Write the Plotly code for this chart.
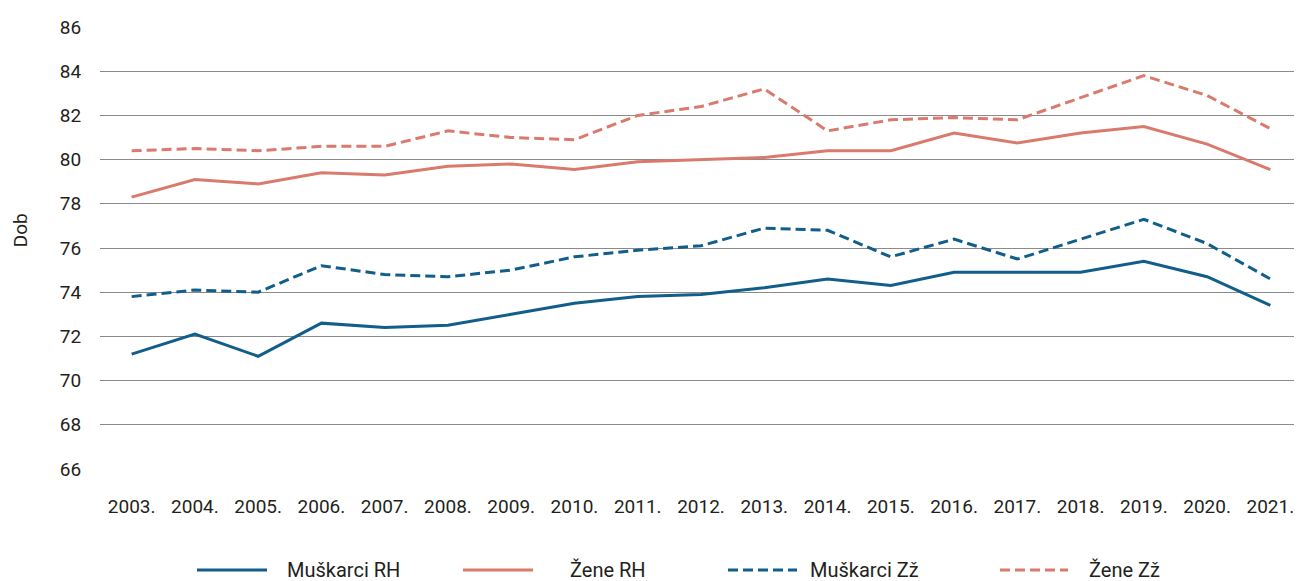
import plotly.graph_objects as go

years = ["2003.", "2004.", "2005.", "2006.", "2007.", "2008.", "2009.", "2010.", "2011.", "2012.",
         "2013.", "2014.", "2015.", "2016.", "2017.", "2018.", "2019.", "2020.", "2021."]
muskarci_rh = [71.2, 72.1, 71.1, 72.6, 72.4, 72.5, 73.0, 73.5, 73.8, 73.9, 74.2, 74.6, 74.3, 74.9, 74.9, 74.9, 75.4, 74.7, 73.4]
zene_rh = [78.3, 79.1, 78.9, 79.4, 79.3, 79.7, 79.8, 79.55, 79.9, 80.0, 80.1, 80.4, 80.4, 81.2, 80.75, 81.2, 81.5, 80.7, 79.55]
muskarci_zz = [73.8, 74.1, 74.0, 75.2, 74.8, 74.7, 75.0, 75.6, 75.9, 76.1, 76.9, 76.8, 75.6, 76.4, 75.5, 76.4, 77.3, 76.2, 74.6]
zene_zz = [80.4, 80.5, 80.4, 80.6, 80.6, 81.3, 81.0, 80.9, 82.0, 82.4, 83.2, 81.3, 81.8, 81.9, 81.8, 82.8, 83.8, 82.9, 81.4]
y_ticks = [66, 68, 70, 72, 74, 76, 78, 80, 82, 84, 86]

BLUE = "#125e8a"
RED = "#d97a6c"
TXT = "#231f20"
FONT = "Roboto"
DASH = "10px,5px"

series = [
    ("Muškarci RH", muskarci_rh, BLUE, "solid"),
    ("Žene RH", zene_rh, RED, "solid"),
    ("Muškarci Zž", muskarci_zz, BLUE, DASH),
    ("Žene Zž", zene_zz, RED, DASH),
]

fig = go.Figure()
for name, vals, col, dash in series:
    fig.add_trace(go.Scatter(x=years, y=vals, name=name, mode="lines",
                             line=dict(color=col, width=3, dash=dash),
                             showlegend=False))

# page has an 8px body margin; work in page pixels and convert
OFF = 8
W, H = 1302 - OFF, 581 - OFF
L, R, T, B = 100 - OFF, 0, 26.5 - OFF, 112
pw, ph = W - L - R, H - T - B

def px(x):
    return (x - OFF - L) / pw

def py(y):
    return (H - B - (y - OFF)) / ph

legend_items = [
    ("Muškarci RH", BLUE, "solid", 197, 267, 285),
    ("Žene RH", RED, "solid", 463, 533, 568),
    ("Muškarci Zž", BLUE, DASH, 728, 797, 808),
    ("Žene Zž", RED, DASH, 1000, 1068, 1087),
]
for name, col, dash, x0, x1, tx in legend_items:
    fig.add_shape(type="line", xref="paper", yref="paper",
                  x0=px(x0), x1=px(x1), y0=py(570), y1=py(570),
                  line=dict(color=col, width=3, dash=dash))
    fig.add_annotation(text=name, xref="paper", yref="paper", x=px(tx), y=py(570),
                       xanchor="left", yanchor="middle", showarrow=False,
                       font=dict(family=FONT, size=20, color=TXT))

fig.add_annotation(text="Dob", xref="paper", yref="paper", x=px(20), y=py(230),
                   xanchor="center", yanchor="middle", textangle=-90, showarrow=False,
                   font=dict(family=FONT, size=19, color=TXT))

fig.update_layout(
    width=W, height=H,
    margin=dict(l=L, r=R, t=T, b=B),
    paper_bgcolor="white", plot_bgcolor="white",
    font=dict(family=FONT, size=19, color=TXT),
    showlegend=False,
)
fig.update_xaxes(type="category", range=[-0.5, 18.5], showgrid=False, zeroline=False,
                 showline=False, ticks="outside", ticklen=20, tickcolor="rgba(0,0,0,0)",
                 tickfont=dict(family=FONT, size=19, color=TXT))
fig.update_yaxes(range=[66, 86], tickvals=y_ticks, showgrid=True, gridcolor="#8a8a8a",
                 gridwidth=1, zeroline=False, showline=False, ticks="outside", ticklen=14,
                 tickcolor="rgba(0,0,0,0)",
                 tickfont=dict(family=FONT, size=19, color=TXT))

fig.write_html("out.html")
